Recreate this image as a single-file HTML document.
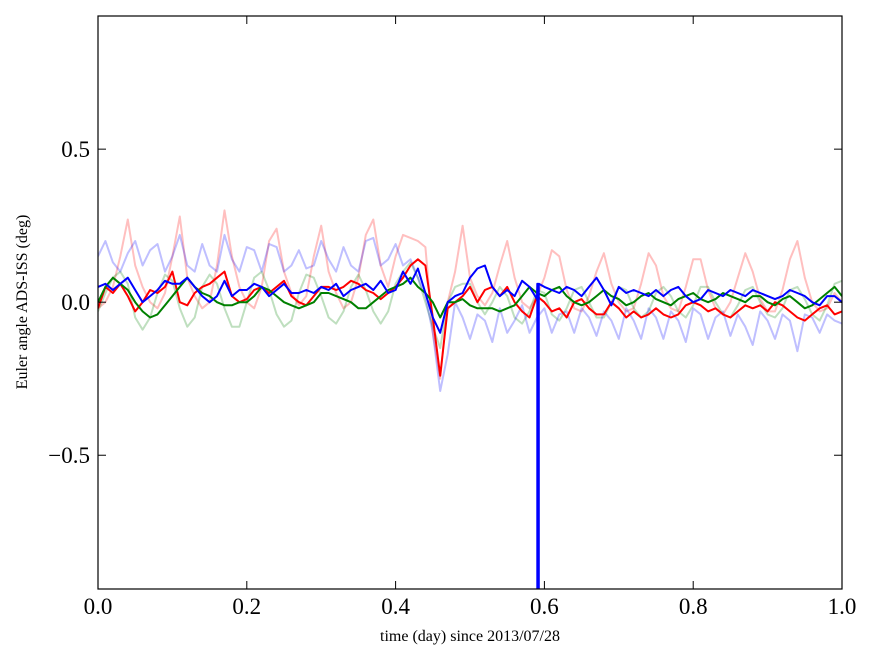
<!DOCTYPE html>
<html><head><meta charset="utf-8"><style>
html,body{margin:0;padding:0;background:#fff;}
svg text{font-family:"Liberation Serif",serif;}
</style></head><body>
<svg id="chart" width="875" height="662" xmlns="http://www.w3.org/2000/svg">
<rect width="875" height="662" fill="#fff"/>
<g id="plot"></g>
<rect x="98" y="16" width="744" height="573" fill="none" stroke="#000" stroke-width="1.2"/>
<g id="ticks"></g>
<text x="470" y="641" font-size="16" text-anchor="middle">time (day) since 2013/07/28</text>
<text x="0" y="0" font-size="16" text-anchor="middle" transform="translate(27,302) rotate(-90)">Euler angle ADS-ISS (deg)</text>
</svg>
<script>
const times = Array.from({length:101},(_, i)=>i/100);
const xTicks = [0,0.2,0.4,0.6,0.8,1.0];
const xTickLabels = ["0.0","0.2","0.4","0.6","0.8","1.0"];
const yTicks = [-0.5,0,0.5];
const yTickLabels = ["\u22120.5","0.0","0.5"];
const faintRed = [-0.02,0,0.05,0.15,0.27,0.12,0.05,0,-0.02,0.03,0.15,0.28,0.08,0.02,-0.02,0,0.12,0.30,0.15,0.05,0,-0.02,0.05,0.2,0.24,0.1,0.03,-0.01,0.02,0.15,0.25,0.1,0.03,-0.02,0,0.08,0.22,0.27,0.12,0.05,0.15,0.22,0.21,0.20,0.18,-0.1,-0.25,0,0.1,0.25,0.08,0.02,-0.01,0.03,0.12,0.2,0.08,0,-0.02,0.02,0.08,0.17,0.15,0.04,-0.02,-0.03,0.02,0.1,0.16,0.06,0,-0.03,-0.02,0.06,0.16,0.12,0.02,-0.02,-0.03,0.05,0.14,0.14,0.04,-0.02,-0.04,0,0.08,0.16,0.1,0.01,-0.03,-0.03,0.04,0.14,0.2,0.08,0,-0.03,-0.02,0.03,0];
const faintBlue = [0.15,0.2,0.13,0.1,0.16,0.2,0.12,0.17,0.19,0.1,0.15,0.22,0.12,0.1,0.19,0.12,0.1,0.22,0.14,0.1,0.18,0.17,0.1,0.19,0.18,0.1,0.12,0.17,0.11,0.12,0.2,0.14,0.1,0.18,0.12,0.1,0.2,0.21,0.12,0.14,0.19,0.12,0.14,0.08,0.02,-0.1,-0.29,-0.17,0,-0.05,-0.12,-0.04,-0.06,-0.13,-0.02,-0.1,-0.06,-0.01,-0.1,-0.05,-0.02,-0.1,-0.04,-0.03,-0.1,-0.02,-0.05,-0.11,-0.03,-0.06,-0.12,-0.02,-0.06,-0.12,-0.02,-0.05,-0.12,-0.03,-0.06,-0.13,-0.02,-0.04,-0.12,-0.05,-0.03,-0.11,-0.04,-0.08,-0.14,-0.03,-0.06,-0.12,-0.04,-0.06,-0.16,-0.04,-0.05,-0.1,-0.04,-0.06,-0.07];
const faintGreen = [-0.03,0.03,0.08,0.1,0.06,-0.05,-0.09,-0.05,0.03,0.09,0.07,-0.02,-0.08,-0.05,0.05,0.09,0.06,-0.02,-0.08,-0.08,0,0.08,0.1,0.04,-0.04,-0.08,-0.06,0.03,0.09,0.08,0.02,-0.05,-0.07,-0.03,0.05,0.09,0.04,-0.03,-0.07,-0.03,0.06,0.1,0.13,0.08,0,-0.08,-0.15,0,0.05,0.06,0.06,0,-0.04,0,0.05,0.02,-0.05,-0.07,-0.03,0.04,0.03,-0.04,-0.06,-0.02,0.04,0.05,0,-0.05,-0.05,0,0.05,0.04,-0.02,-0.05,-0.03,0.03,0.05,0.02,-0.03,-0.05,-0.01,0.05,0.05,0,-0.04,-0.05,-0.01,0.04,0.05,0,-0.04,-0.05,-0.02,0.04,0.05,0.01,-0.04,-0.06,-0.01,0.06,0.07];
const mainRed = [-0.02,0.05,0.03,0.06,0.02,-0.03,0,0.04,0.03,0.05,0.1,0,-0.01,0.03,0.05,0.06,0.08,0.1,0.02,0,0.01,0.04,0.05,0.03,0.05,0.07,0.02,0,-0.01,0.02,0.05,0.05,0.04,0.05,0.07,0.06,0.04,0.03,0.01,0.03,0.05,0.08,0.12,0.14,0.12,-0.05,-0.24,-0.02,0,0.02,0.05,0,0.04,0.05,0.02,0.05,0,-0.03,-0.05,0.02,0,-0.03,-0.02,-0.05,0,0.01,-0.02,-0.04,-0.04,0,-0.02,-0.05,-0.03,-0.05,-0.04,-0.02,-0.04,-0.05,-0.04,-0.01,0,-0.01,-0.03,-0.02,-0.04,-0.05,-0.03,-0.01,-0.02,-0.01,-0.03,0,-0.01,-0.03,-0.05,-0.06,-0.04,-0.02,-0.01,-0.04,-0.03];
const mainGreen = [0,0.05,0.08,0.06,0.04,0,-0.03,-0.05,-0.04,-0.01,0.02,0.05,0.08,0.05,0.03,0.02,0,-0.01,-0.01,0,0,0.02,0.05,0.04,0.02,0,-0.01,-0.02,-0.01,0,0.03,0.03,0.02,0.01,0,-0.02,-0.02,0,0.02,0.04,0.05,0.06,0.08,0.05,0.03,0,-0.05,0,0,0.01,-0.01,-0.02,-0.02,-0.02,-0.03,-0.02,-0.01,0.02,0.05,0.03,0.02,0.04,0.05,0.02,0,-0.01,0,0.02,0.04,0.02,0.01,-0.01,0,0.02,0.03,0.01,0,-0.01,0.01,0.02,0.03,0.01,0,0.01,0.03,0.02,0.01,0,0.02,0.02,0,-0.01,0.01,0.02,0,-0.02,-0.01,0.01,0.03,0.05,0.02];
const mainBlue = [0.05,0.06,0.04,0.06,0.08,0.04,0,0.02,0.04,0.07,0.06,0.06,0.08,0.05,0.02,0,0.02,0.07,0.02,0.04,0.04,0.06,0.05,0.02,0.04,0.06,0.03,0.03,0.04,0.03,0.05,0.04,0.06,0.02,0.04,0.05,0.06,0.04,0.07,0.03,0.04,0.1,0.06,0.11,0.03,-0.05,-0.1,0,0.02,0.03,0.08,0.11,0.12,0.05,0.02,0.04,0.02,0.07,0.05,0.01,0.05,0.04,0.03,0.05,0.04,0.02,0.05,0.08,0.04,-0.01,0.05,0.03,0.04,0.03,0.02,0.04,0.02,0.04,0.05,0.02,0,0.01,0.04,0.03,0.02,0.04,0.03,0.02,0.04,0.03,0.02,0.01,0.02,0.04,0.03,0.02,0,-0.01,0.02,0.02,0];
const spikeTimes = [0.5905,0.5905,0.5925,0.5925];
const spikeValues = [0.06,-1.0,-1.0,0.06];

const X0=98,X1=842,Y0=16,Y1=589,YMIN=-0.937,YMAX=0.935;
const sx = t => X0 + (t-0)/(1-0)*(X1-X0);
const sy = v => Y1 - (v-YMIN)/(YMAX-YMIN)*(Y1-Y0);
const NS="http://www.w3.org/2000/svg";
const plot=document.getElementById('plot');
const clip=document.createElementNS(NS,'clipPath');clip.setAttribute('id','clp');
const cr=document.createElementNS(NS,'rect');cr.setAttribute('x',X0);cr.setAttribute('y',Y0);cr.setAttribute('width',X1-X0);cr.setAttribute('height',Y1-Y0);
clip.appendChild(cr);plot.appendChild(clip);plot.setAttribute('clip-path','url(#clp)');
function drawLine(ts, vs, color, name){
  const p=document.createElementNS(NS,'path');
  p.setAttribute('d', ts.map((t,i)=>(i?'L':'M')+sx(t).toFixed(1)+','+sy(vs[i]).toFixed(1)).join(''));
  p.setAttribute('fill','none');p.setAttribute('stroke',color);p.setAttribute('stroke-width','2');p.setAttribute('stroke-linejoin','round');
  
  
  plot.appendChild(p);
}
drawLine(times,faintRed,'rgba(255,0,0,0.25)','faint-red-series');
drawLine(times,faintGreen,'rgba(0,128,0,0.25)','faint-green-series');
drawLine(times,faintBlue,'rgba(0,0,255,0.25)','faint-blue-series');
drawLine(times,mainRed,'#ff0000','red-series');
drawLine(times,mainGreen,'#008000','green-series');
// merge blue with spike
const bt=[],bv=[];
times.forEach((t,i)=>{bt.push(t);bv.push(mainBlue[i]);});
spikeTimes.forEach((t,i)=>{bt.push(t);bv.push(spikeValues[i]);});
const order=bt.map((t,i)=>i).sort((a,b)=>bt[a]-bt[b]||a-b);
drawLine(order.map(i=>bt[i]),order.map(i=>bv[i]),'#0000ff','blue-series');

const tg=document.getElementById('ticks');
function line(x1,y1,x2,y2){const l=document.createElementNS(NS,'line');l.setAttribute('x1',x1);l.setAttribute('y1',y1);l.setAttribute('x2',x2);l.setAttribute('y2',y2);l.setAttribute('stroke','#000');l.setAttribute('stroke-width','1');tg.appendChild(l);return l;}
function txt(x,y,s,anchor){const t=document.createElementNS(NS,'text');t.setAttribute('x',x);t.setAttribute('y',y);t.setAttribute('font-size','23');t.setAttribute('text-anchor',anchor);t.textContent=s;tg.appendChild(t);return t;}
xTicks.forEach((v,i)=>{
  const x=sx(v);
  const a=line(x,Y1,x,Y1-8);
  
  
  line(x,Y0,x,Y0+8);
  const t=txt(x,614,xTickLabels[i],'middle');
  
  
});
yTicks.forEach((v,i)=>{
  const y=sy(v);
  const a=line(X0,y,X0+8,y);
  
  
  line(X1,y,X1-8,y);
  const t=txt(90,y+8,yTickLabels[i],'end');
  
  
});
</script>
</body></html>
